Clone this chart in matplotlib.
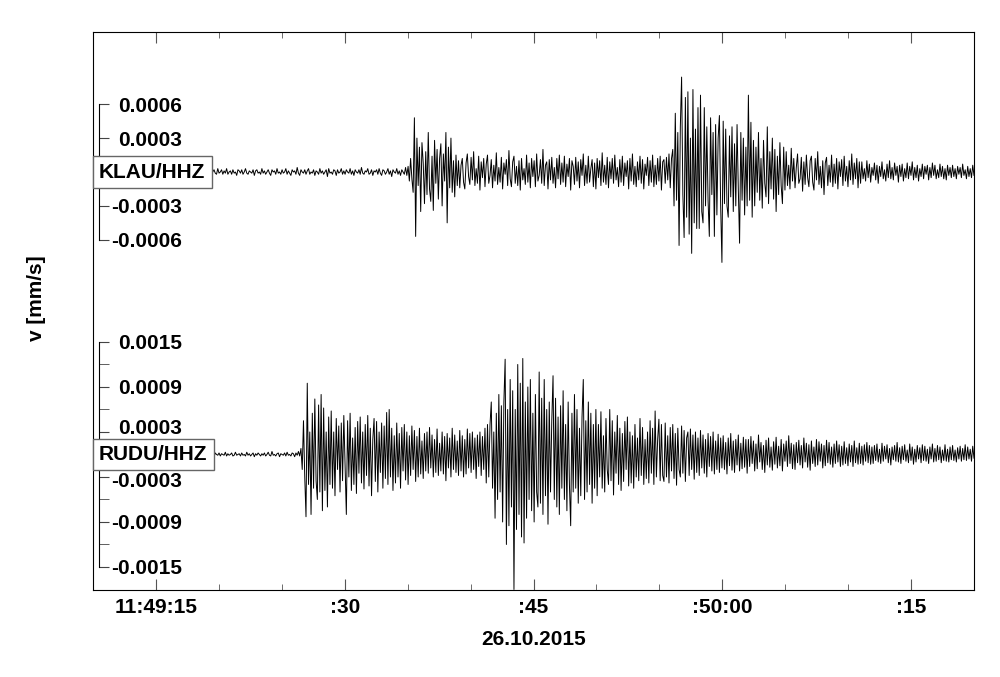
import numpy as np
import matplotlib
matplotlib.use('Agg')
import matplotlib.pyplot as plt
import matplotlib.transforms as mtransforms
from matplotlib.ticker import MultipleLocator

plt.rcParams['font.family'] = ['Liberation Sans', 'DejaVu Sans']
plt.rcParams['font.weight'] = 'bold'
plt.rcParams['font.size'] = 15

# time axis: seconds after 11:49:10 (26.10.2015), one sample every 0.1 s
t_start = 0
t_end = 70
tick_pos = [5, 20, 35, 50, 65]
tick_labels = ['11:49:15', ':30', ':45', ':50:00', ':15']

# amplitudes, in 1e-5 mm/s
unit = 1e-5

# KLAU/HHZ
klau_noise = [1,-2,0,2,-1,-3,1,2,-1,0,-2,1,3,-1,-2,0,1,-1,2,-2,0,1,-3,2,-1,
              0,2,-1,-2,1,3,-2,0,-1,2,1,-2,0,-3,2,1,-1,0,2,-2,-1,3,0,-2,1,
              -1,2,0,-2,3,-1,-2,1,0,2,-3,1,-1,0,2,-2,1,3,-2,-1,0,1,-2,2,-1,
              1,-3,2,0,-1,2,-2,1,3,-1,0,-2,1,-1,2,0,-3,2,1,-2,0,2,-1,-2,3,
              -1,0,2,-2,1,-1,3,-2,0,1,-2,2,-1,0,-3,2,1,-1,2,-2,0,3,-1,-2,1,
              0,-1,2,-3,1,2,-1,0,-2,3,-1,1,-2,0,2,-1,-3,2,0,1,-2,3,-1,0,-2,
              2,-1,0,3,-2,1,-1,-3,2,0,1,-2,4,-1,-3,2,0,-1,2,-2,1,3,-2,0,-1,
              2,-3,1,0,-2,3,-1,1,-2,0,2,-4,3,-1,0,-2,2,1,-3,2,-1,0,3,-2,1,
              -2,2,0,-1,3,-2,1,-3,2,0,-1,2,-2,4,-1,-2,1,0,3,-2,-1,2,-3,1,0,
              2,-2,3,-1,-3,2,1,-2,0,3,-2,1,-4,2,0,-1,3,-2,1,-3,2,0,-2,4,-3]
klau_p = [5,-8,12,-6,-18,48,-57,30,-12,22,-35,26,8,-28,18,-20,35,-15,-26,14,
          -34,28,-10,20,-24,12,25,-30,16,-8,35,-45,22,-14,30,-18,10,-22,15,-12]
klau_coda1 = [10,-14,6,12,-9,-15,8,16,-4,-11,13,-7,18,-12,3,-10,14,
              -16,9,-5,12,-13,7,15,-10,-3,11,-14,6,-8,17,-11,4,-9,
              13,-15,8,-2,11,-12,19,-6,-13,9,14,-10,5,-12,10,-16,12,
              -7,3,-11,15,-9,8,-14,12,-4,10,-13,16,-8,-3,11,-10,20,
              -12,6,9,-15,11,-7,13,-10,4,-14,12,-6,15,-11,8,-9,14,
              -13,7,-4,12,-16,10,5,-11,13,-8,9,-14,11,-3,16,-12,6,
              -10,14,-9,3,11,-13,8,-15,12,-5,10,-12,17,-9,6,-11,13,
              -14,9,-6,12,-10,15,-7,4,-13,11,-9,14,-12,8,-4,10,-15,
              12,-8,16,-11,5,-13,9,-7,14,-10,11,-15,7,-3,13,-12,10,
              -9,15,-13,6,-11,12,-8,14,-16,9,11,-10,13,-7,16,-14,12]
klau_s = [20,-30,52,-25,35,-65,40,84,-20,-58,66,-40,71,-55,30,-72,73,-45,38,-50,
          57,-50,68,-35,-45,57,-30,40,-25,-57,48,-20,35,-57,42,-38,30,50,-30,-80,
          45,-28,38,-30,-40,32,-22,40,-35,25,-30,42,-15,-63,35,-25,30,-38,22,-30,
          68,-25,44,-40,28]
klau_s2 = [-30,22,-18,35,-25,12,-32,28,-10,-22,40,-28,18,-15,30,-24,20,-35,14,-20,
           26,-12,-28,22,-16]
klau_coda2 = [18,-12,6,-15,21,-8,12,-14,4,16,-10,-6,13,-17,9,-11,15,-5,-13,10,
              14,-9,-16,12,-7,18,-11,5,-14,10,-20,8,13,-12,6,-9,15,-13,7,-10,
              12,-15,9,-4,11,-12,14,-8,5,-13,10,-7,16,-11,8,-6,12,-14,9,-10]
klau_tail = [9,-6,3,-8,10,-5,7,-9,4,-3,8,-7,6,-10,5,-4,9,-6,
             2,-8,7,-5,10,-6,4,-7,8,-3,5,-9,6,-4,7,-8,3,-5,
             8,-6,5,-3,9,-7,4,-5,6,-8,3,-4,7,-6,5,-2,6,-7,
             4,-5,8,-3,6,-6,2,-5,7,-4,5,-6,3,-7,6,-3,4,-5,
             6,-4,3,-6,5,-2,4,-5,7,-3,2,-6,5,-4,3,-5,6,-3]

# RUDU/HHZ
rudu_noise = [1,-2,0,2,-1,-2,1,3,-1,0,-2,1,2,-1,-3,
              2,0,-1,1,-2,3,-1,0,2,-2,1,-1,-2,2,0,
              -1,3,-2,1,0,-1,2,-3,1,2,-1,0,-2,1,-1,
              2,-2,0,3,-1,-2,1,0,-1,2,-3,2,1,-1,0,
              -2,1,3,-2,0,1,-1,2,-2,0,-1,3,-2,1,0,
              -1,2,-2,1,-3,2,0,-1,1,-2,2,0,-1,3,-2,
              1,0,-2,2,-1,1,-3,2,0,-1,2,-2,1,0,-1,
              3,-2,1,-1,0,2,-2,-1,3,-1,0,1,-2,2,-1,
              0,-2,3,-1,1,-2,0,2,-3,1,-1,2,0,-2,1,
              -1,2,-2,0,3,-1,-2,4,-1,0,-2,1,2,-3,1,
              0,-1,2,-2,3,-1,0,-2,2,1,-3,2,-1,4,-2]
rudu_p = [8,-20,45,-30,-83,95,-40,30,-80,55,-45,74,-35,-60,66,-50,80,-75,62,-48,
          30,-70,50,-40,58]
rudu_coda1 = [-45,30,-55,48,-20,38,-50,42,-35,52,-15,-80,45,-30,55,-48,22,-40,36,-52,44,-25,50,-38,30,
              -46,40,-28,52,-42,35,-55,20,48,-36,44,-50,30,-24,42,-45,38,-32,56,-40,60,-30,35,-48,25,
              -38,42,-30,28,-45,36,-22,40,-34,30,-40,25,-28,38,-20,32,-36,24,-30,35,-26,18,-32,28,-22,
              30,-25,36,-18,26,-30,20,-24,34,-28,15,-22,30,-26,24,-35,28,-18,22,-30,35,-20,26,-24,18,
              -28,32,-22,25,-30,20,-26,34,-18,28,-24,30,-20,22,-32,26,-16,30,-28,24,-20,35,-38,40,-30]
rudu_s = [40,70,-45,30,-85,55,-60,80,-50,65,-90,70,127,-120,60,-95,100,-70,85,-180,
          60,-100,120,-80,95,-110,128,-118,70,-85,90,-60,100,-75,55,-90,80,-50,-70,110,
          -65,75,-80,100,-55,60,-93,70,-50,45,105,-60,75,-70,50,-80,65,-45,85,-60,
          40,-75,70,-40,-95,55,-50,80,-45,60,-65,35,-55,50,100,-60,45,-50,70,-40,
          55,-65,40,-45,60]
rudu_s2 = [-55,40,-30,57,-45,25,-50,48,-20,-40,60,-35,45,-54,30,-25,52,-40,35,-48,
           28,-36,44,-20,50,-42,30,-38,25,-45,40,-30,22,-35,48,-28,36,-40,20,-32]
rudu_coda2 = [30,-38,45,-25,35,-40,58,-30,20,47,-35,40,-28,-36,42,-30,25,-38,36,-22,
              40,-32,28,-41,35,-20,-30,38,-25,32,-36,22,30,-28,34,-20,26,-33,30,-24,
              22,-28,32,-18,26,-25,20,-30,28,-16,24,-22,30,-26,18,-20,27,-24,22,-18,
              25,-20,16,-26,22,-15,28,-21,18,-24,20,-14,26,-22,15,-19,23,-17,20,-25]
rudu_coda3 = [20,-16,24,-12,18,-22,14,-19,26,-10,16,-20,12,-24,19,-14,22,-17,10,-21,
              17,-13,23,-18,11,-15,20,-22,14,-9,18,-16,25,-12,15,-19,13,-20,16,-11,
              19,-14,12,-18,22,-10,15,-17,13,-21,18,-12,10,-16,20,-14,17,-9,14,-18,
              12,-15,19,-11,16,-13,10,-17,14,-12,18,-10,13,-16,11,-14,17,-12,9,-15,
              14,-10,12,-16,18,-11,9,-13,15,-12,11,-14,13,-9,16,-11,12,-13,10,-12]
rudu_tail = [12,-8,14,-10,7,-12,15,-9,11,-6,13,-11,8,-14,10,-7,12,-9,16,-10,
             9,-12,11,-7,13,-9,6,-11,14,-8,10,-13,7,-10,12,-6,9,-11,13,-8,
             11,-9,7,-12,10,-6,14,-10,8,-9,12,-7,10,-11,6,-8,13,-9,7,-10,
             10,-7,12,-8,6,-10,9,-6,11,-9,8,-7,13,-8,10,-6,7,-9,11,-5]

klau = np.array(klau_noise + klau_p + klau_coda1 + klau_s + klau_s2 + klau_coda2 + klau_tail) * unit
rudu = np.array(rudu_noise + rudu_p + rudu_coda1 + rudu_s + rudu_s2 + rudu_coda2 + rudu_coda3 + rudu_tail) * unit
t_klau = np.linspace(t_start, t_end, len(klau))
t_rudu = np.linspace(t_start, t_end, len(rudu))

klau_ticks = [-0.0006, -0.0003, 0, 0.0003, 0.0006]
klau_labels = ['-0.0006', '-0.0003', '', '0.0003', '0.0006']
rudu_ticks = [-0.0015, -0.0009, -0.0003, 0.0003, 0.0009, 0.0015]
rudu_labels = ['-0.0015', '-0.0009', '-0.0003', '0.0003', '0.0009', '0.0015']
rudu_minor = [-0.0012, -0.0006, 0, 0.0006, 0.0012]


fig = plt.figure(figsize=(10, 6.77), dpi=100)
rect = [0.093, 87 / 677, 0.881, 558 / 677]

ax = fig.add_axes(rect)
ax.set_xlim(t_start, t_end)
ax.set_ylim(0, 1)
ax.set_yticks([])
ax.set_xticks(tick_pos)
ax.set_xticklabels(tick_labels)
ax.xaxis.set_minor_locator(MultipleLocator(5))
ax.tick_params(axis='x', which='both', direction='in', top=True, bottom=True, color='#555555')
ax.tick_params(axis='x', which='major', length=8, pad=6)
ax.tick_params(axis='x', which='minor', length=4)
ax.set_xlabel('26.10.2015', labelpad=9, fontweight='bold')
fig.text(0.036, 1 - 298 / 677, 'v [mm/s]', rotation=90, ha='center', va='center')


def trace(t, v, ylim, ticks, labels, minor, name, nudge=0):
    a = fig.add_axes(rect)
    a.patch.set_visible(False)
    for s in ['top', 'right', 'bottom']:
        a.spines[s].set_visible(False)
    a.set_xlim(t_start, t_end)
    a.set_ylim(*ylim)
    a.set_xticks([])
    a.plot(t, v, color='black', lw=0.7)
    a.spines['left'].set_position(('axes', 6 / 881))
    a.spines['left'].set_bounds(ticks[0], ticks[-1])
    a.set_yticks(ticks)
    a.set_yticklabels(labels)
    a.set_yticks(minor, minor=True)
    a.tick_params(axis='y', which='both', direction='in', length=7, pad=-60, color='#444444')
    # labels next to the station box are pushed away from it
    if nudge:
        for val, lab in zip(ticks, a.get_yticklabels()):
            if abs(val) < 0.0004:
                dy = nudge if val > 0 else -nudge / 2
                lab.set_transform(lab.get_transform() +
                                  mtransforms.ScaledTranslation(0, dy / 72, fig.dpi_scale_trans))
    tr = mtransforms.blended_transform_factory(a.transAxes, a.transData)
    a.text(6 / 881, 0, name, transform=tr, ha='left', va='center', zorder=5,
           bbox=dict(boxstyle='square,pad=0.3', fc='white', ec='#666666', lw=1))
    return a


trace(t_klau, klau, (-0.003699, 0.001239), klau_ticks, klau_labels, [], 'KLAU/HHZ')
trace(t_rudu, rudu, (-0.001807, 0.005633), rudu_ticks, rudu_labels, rudu_minor, 'RUDU/HHZ', nudge=4)

fig.savefig('out.png', dpi=100)
